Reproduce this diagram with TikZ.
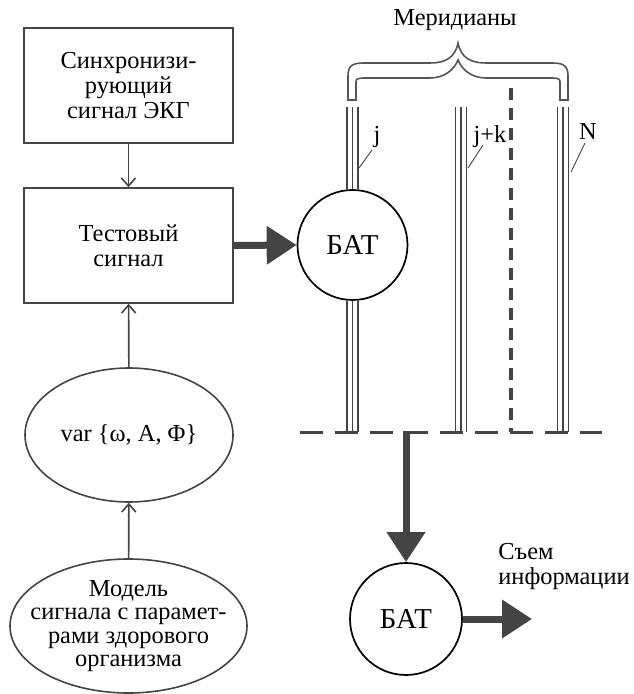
\documentclass[tikz,border=0pt]{standalone}
\usepackage{fontspec}
\setmainfont{LiberationSerif}[Extension=.ttf, UprightFont=*-Regular,
  BoldFont=*-Bold, ItalicFont=*-Italic]
\usetikzlibrary{arrows.meta,shapes.geometric,positioning}
\definecolor{linegray}{HTML}{444444}
\definecolor{bracegray}{HTML}{555555}
\tikzset{
  blockbox/.style={draw=linegray, line width=0.8pt, minimum width=104.5pt,
    minimum height=57.5pt, align=center, inner sep=0pt},
  paramoval/.style={ellipse, draw=linegray, line width=0.8pt, inner sep=0pt},
  batnode/.style={circle, draw=black, line width=0.85pt, fill=white,
    minimum size=55pt, inner sep=0pt, font=\rmfamily\fontsize{14.4}{16}\selectfont},
  thinarrow/.style={draw=linegray, line width=0.8pt,
    -{Straight Barb[length=4pt,width=7pt]}},
  fatarrow/.style={draw=linegray, line width=3.5pt,
    -{Triangle[length=15pt,width=18.5pt]}},
  wire/.style={draw=linegray, line width=0.7pt},
  leader/.style={draw=linegray, line width=0.45pt},
  busline/.style={draw=linegray, line width=1.5pt, dash pattern=on 11.5pt off 6pt},
  splitline/.style={draw=linegray, line width=1.7pt, dash pattern=on 6pt off 4pt}
}

\begin{document}
\begin{tikzpicture}[x=0.5pt,y=-0.5pt,
    every node/.style={font=\rmfamily\fontsize{12.2}{12.5}\selectfont}]
  \useasboundingbox (0,0) rectangle (633,694);

  \node[blockbox] (sync) at (128.5,85.5) {Синхронизи-\\рующий\\сигнал ЭКГ};
  \node[blockbox] (test) at (128.5,245.5) {Тестовый\\сигнал};
  \node[paramoval, minimum width=104pt, minimum height=67pt] (var) at (129,435) {};
  \node at (var.center) {var \{ω, A, Φ\}};
  \node[paramoval, minimum width=118.5pt, minimum height=67pt] (model) at
    (128.5,626) {};
  \node[align=center, font=\rmfamily\fontsize{12.2}{11.7}\selectfont]
    (modeltext) at (model.center)
    {Модель\\сигнала с парамет-\\рами здорового\\организма};

  \draw[thinarrow] (sync) -- (test);
  \draw[thinarrow] (var) -- (test);
  \draw[thinarrow] (model) -- (var);

  \node[batnode] (bat1) at (352.5,245) {БАТ};
  \node[batnode, minimum size=56pt] (bat2) at (406,619) {БАТ};
  \draw[fatarrow] (test.east) -- (bat1.west);

  % meridians
  \foreach \m/\xm in {j/352.5, k/461, n/563} {
    \coordinate (top\m) at (\xm,107); \coordinate (bot\m) at (\xm,432);
  }
  \foreach \dx in {-5.5,0,5.5} {
    \draw[wire] ([xshift=\dx*0.5pt]topj) -- ([xshift=\dx*0.5pt]bat1.north);
    \draw[wire] ([xshift=\dx*0.5pt]bat1.south) -- ([xshift=\dx*0.5pt]botj);
    \draw[wire] ([xshift=\dx*0.5pt]topk) -- ([xshift=\dx*0.5pt]botk);
    \draw[wire] ([xshift=\dx*0.5pt]topn) -- ([xshift=\dx*0.5pt]botn);
  }

  \coordinate (busleft) at (300,432); \coordinate (busright) at (602,432);
  \draw[busline] (busleft) -- (busright);
  \coordinate (splittop) at (511,88); \coordinate (splitbot) at (511,432);
  \draw[splitline] (splittop) -- (splitbot);

  \node (lj) at (377,137) {j}; \node (lk) at (490,137) {j+k};
  \node (ln) at (588,132) {N};
  \coordinate (lj-a) at (372,150); \coordinate (lj-b) at (359,168);
  \coordinate (lk-a) at (483,145); \coordinate (lk-b) at (468,168);
  \coordinate (ln-a) at (585,143); \coordinate (ln-b) at (571,172);
  \draw[leader] (lj-a) -- (lj-b); \draw[leader] (lk-a) -- (lk-b);
  \draw[leader] (ln-a) -- (ln-b);

  % brace over the meridians
  \draw[draw=bracegray, line width=0.8pt, fill=white]
    (348,100) -- (348,76) .. controls (348,66) and (352,63) .. (364,63)
    -- (430,63) .. controls (445,63) and (455,58) .. (458,43)
    .. controls (461,58) and (471,63) .. (486,63) -- (552,63)
    .. controls (564,63) and (568,66) .. (568,76) -- (568,100) -- (560,100)
    -- (560,82) .. controls (560,79) and (558,78) .. (552,78) -- (486,78)
    .. controls (472,78) and (462,70) .. (458,60)
    .. controls (454,70) and (444,78) .. (430,78) -- (364,78)
    .. controls (358,78) and (356,79) .. (356,82) -- (356,100) -- cycle;
  \node (merid) at (455,20) {Меридианы};

  \coordinate (tap) at (406,431);
  \draw[fatarrow] (tap) -- (bat2.north);
  \coordinate (outtip) at (532,619);
  \draw[fatarrow] (bat2.east) -- (outtip);
  \node[anchor=west, align=left, inner sep=0pt] (readout) at (498,567)
    {Съем\\информации};
\end{tikzpicture}
\end{document}
